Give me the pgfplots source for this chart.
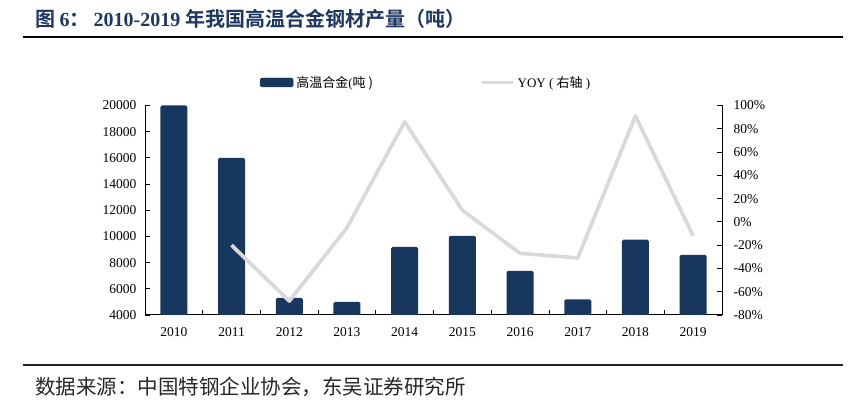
\documentclass[border=0pt]{standalone}
\usepackage{pgfplots}
\pgfplotsset{compat=1.18}
\usepackage{fontspec}
\setmainfont{Liberation Serif}
\newfontfamily\cjk{Noto Sans CJK SC}
\newfontfamily\cjkb{Noto Sans CJK SC Bold}
\definecolor{barblue}{HTML}{17375E}
\definecolor{yoygray}{HTML}{D9D9D9}
\definecolor{titleblue}{HTML}{1F3763}

\pgfplotstableread{
x val
0 20000
1 16000
2 5300
3 5000
4 9200
5 10050
6 7370
7 5200
8 9750
9 8600
}\prodtable

\pgfplotstableread{
x yoy
1 -20
2 -68
3 -5
4 86
5 10
6 -27
7 -31
8 91
9 -12
}\yoytable

\begin{document}
\begin{tikzpicture}
\path[use as bounding box] (0pt,0pt) rectangle (863pt,412pt);

% title and rules
\node[anchor=west, inner sep=0pt, text=titleblue, font=\fontsize{20}{20}\selectfont]
  at (35pt,393pt) {{\cjkb 图 }{\bfseries 6}{\cjkb ：}\hspace{4pt}{\bfseries 2010-2019 }{\cjkb 年我国高温合金钢材产量（吨）}};
\draw[line width=2pt] (23pt,374.5pt) -- (843pt,374.5pt);
\draw[line width=2pt, black!85] (23pt,47pt) -- (843pt,47pt);
\node[anchor=west, inner sep=0pt, text=black!85, font=\fontsize{20.5}{20.5}\selectfont\cjk]
  at (35pt,25pt) {数据来源：中国特钢企业协会，东吴证券研究所};

\pgfplotsset{
  common/.style={
    at={(145pt,97pt)}, anchor=south west,
    scale only axis, width=577pt, height=209.5pt,
    xmin=-0.5, xmax=9.5,
    tick align=inside,
    major tick length=5pt, minor tick length=5pt,
    tick style={black, line width=0.8pt},
    axis line style={black, line width=1pt, -},
    ticklabel style={font=\fontsize{13.5}{13.5}\selectfont},
    scaled ticks=false,
    /pgf/number format/assume math mode=true,
    /pgf/number format/set thousands separator={},
  }
}

\begin{axis}[common,
  axis x line*=bottom, axis y line*=left,
  ymin=4000, ymax=20000,
  ytick={4000,6000,...,20000},
  xtick={0,...,9},
  xticklabels={2010,2011,2012,2013,2014,2015,2016,2017,2018,2019},
  major x tick style={draw=none},
  minor xtick={0.5,1.5,...,8.5},
  yticklabel style={xshift=-5pt},
  xticklabel style={yshift=-9pt},
]
\addplot[ybar, bar width=27pt, fill=barblue, draw=none, rounded corners=1.5pt]
  table[x=x, y=val] {\prodtable};
\end{axis}

\begin{axis}[common,
  axis x line=none, axis y line*=right,
  ymin=-80, ymax=100,
  ytick={-80,-60,...,100},
  yticklabel={\pgfmathprintnumber{\tick}\%},
  yticklabel style={xshift=8pt},
  legend columns=2,
  legend style={draw=none, fill=none, at={(0.488,1.11)}, anchor=center,
    font=\fontsize{13}{13}\selectfont,
    /tikz/every even column/.append style={column sep=104pt},
    nodes={inner xsep=3pt}},
]
\addlegendimage{legend image code/.code={\fill[barblue, rounded corners=1.5pt] (0pt,-4.5pt) rectangle (33pt,4.5pt);}}
\addlegendentry{{\cjk 高温合金}(\cjk 吨 )}
\addplot[yoygray, line width=3.7pt, line join=round,
  legend image code/.code={\draw[yoygray, line width=3.7pt] (0pt,0pt) -- (31pt,0pt);}]
  table[x=x, y=yoy] {\yoytable};
\addlegendentry{YOY ( {\cjk 右轴} )}
\end{axis}
\end{tikzpicture}
\end{document}
